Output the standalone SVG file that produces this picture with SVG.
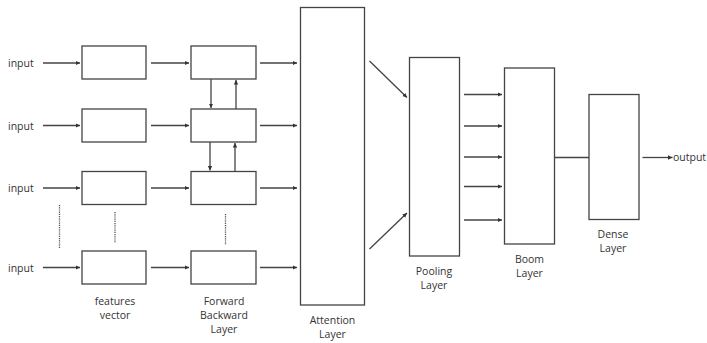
<svg xmlns="http://www.w3.org/2000/svg" width="707" height="343" viewBox="0 0 707 343">
<style>
.box{fill:#fff;stroke:#444;stroke-width:1.3}
.ln{stroke:#444;stroke-width:1.3;fill:none}
.arr{stroke:#444;stroke-width:1.3;fill:none;marker-end:url(#ah)}
.dot{stroke:#555;stroke-width:1.3;stroke-dasharray:1.2 1;fill:none}
text{font-family:"Open Sans","Noto Sans","Liberation Sans",sans-serif;font-size:10.5px;fill:#333}
.c{text-anchor:middle}
</style>
<defs>
<marker id="ah" markerWidth="6" markerHeight="6" refX="4.5" refY="3" orient="auto" markerUnits="userSpaceOnUse">
<path d="M0,0.8 L4.5,3 L0,5.2 Z" fill="#333"/>
</marker>
</defs>
<rect width="707" height="343" fill="#fff"/>
<g id="inputs">
<text x="8" y="67">input</text>
<text x="8" y="130">input</text>
<text x="8" y="192">input</text>
<text x="8" y="272">input</text>
</g>
<g id="features">
<rect class="box" x="82" y="46" width="64" height="33"/>
<rect class="box" x="82" y="109" width="64" height="33"/>
<rect class="box" x="82" y="171.5" width="64" height="33"/>
<rect class="box" x="82" y="251" width="64" height="33"/>
<text class="c" x="115" y="305">features</text>
<text class="c" x="115" y="319">vector</text>
</g>
<g id="forward-backward">
<rect class="box" x="191" y="46" width="65" height="33"/>
<rect class="box" x="191" y="109" width="65" height="33"/>
<rect class="box" x="191" y="171.5" width="65" height="33"/>
<rect class="box" x="191" y="251" width="65" height="33"/>
<text class="c" x="224" y="305">Forward</text>
<text class="c" x="224" y="319">Backward</text>
<text class="c" x="224" y="333">Layer</text>
</g>
<g id="attention">
<rect class="box" x="300.5" y="7.5" width="64" height="297.5"/>
<text class="c" x="332.5" y="324">Attention</text>
<text class="c" x="332.5" y="338">Layer</text>
</g>
<g id="pooling">
<rect class="box" x="409.5" y="57.5" width="50" height="198.5"/>
<text class="c" x="434" y="275">Pooling</text>
<text class="c" x="434" y="289">Layer</text>
</g>
<g id="boom">
<rect class="box" x="504.5" y="68" width="50" height="176"/>
<text class="c" x="529.5" y="263">Boom</text>
<text class="c" x="529.5" y="277">Layer</text>
</g>
<g id="dense">
<rect class="box" x="589" y="94.5" width="50" height="125"/>
<text class="c" x="613" y="238">Dense</text>
<text class="c" x="613" y="252">Layer</text>
</g>
<g id="output">
<text x="673" y="161">output</text>
</g>
<g id="connectors">
<line class="arr" x1="43" y1="63" x2="80" y2="63"/>
<line class="arr" x1="43" y1="125.5" x2="80" y2="125.5"/>
<line class="arr" x1="43" y1="188" x2="80" y2="188"/>
<line class="arr" x1="43" y1="267.5" x2="80" y2="267.5"/>
<line class="arr" x1="151" y1="63" x2="189" y2="63"/>
<line class="arr" x1="151" y1="125.5" x2="189" y2="125.5"/>
<line class="arr" x1="151" y1="188" x2="189" y2="188"/>
<line class="arr" x1="151" y1="267.5" x2="189" y2="267.5"/>
<line class="arr" x1="260" y1="63" x2="297" y2="63"/>
<line class="arr" x1="260" y1="125.5" x2="297" y2="125.5"/>
<line class="arr" x1="260" y1="188" x2="297" y2="188"/>
<line class="arr" x1="260" y1="267.5" x2="297" y2="267.5"/>
<line class="arr" x1="211" y1="79" x2="211" y2="108"/>
<line class="arr" x1="236" y1="109" x2="236" y2="80"/>
<line class="arr" x1="210" y1="142" x2="210" y2="170.5"/>
<line class="arr" x1="235" y1="171.5" x2="235" y2="143"/>
<line class="dot" x1="59.5" y1="205" x2="59.5" y2="248"/>
<line class="dot" x1="115" y1="212" x2="115" y2="243"/>
<line class="dot" x1="225.5" y1="214" x2="225.5" y2="245"/>
<line class="arr" x1="369.5" y1="61" x2="407" y2="97.5"/>
<line class="arr" x1="369.5" y1="249" x2="407" y2="213"/>
<line class="arr" x1="464" y1="94.5" x2="502" y2="94.5"/>
<line class="arr" x1="464" y1="126" x2="502" y2="126"/>
<line class="arr" x1="464" y1="157" x2="502" y2="157"/>
<line class="arr" x1="464" y1="186.5" x2="502" y2="186.5"/>
<line class="arr" x1="464" y1="220" x2="502" y2="220"/>
<line class="ln" x1="554.5" y1="157.5" x2="589" y2="157.5"/>
<line class="arr" x1="642.5" y1="157.5" x2="672.5" y2="157.5"/>
</g>
</svg>
